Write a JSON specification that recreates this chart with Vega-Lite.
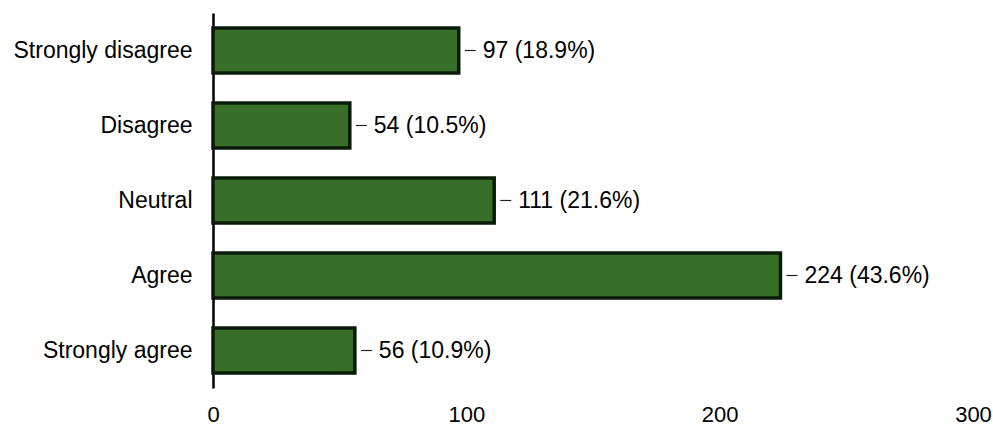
{
  "$schema": "https://vega.github.io/schema/vega-lite/v6.json",
  "autosize": {"type": "none"},
  "width": 760,
  "height": 375,
  "padding": {"left": 213, "top": 13, "right": 20, "bottom": 39},
  "background": "#ffffff",
  "config": {
    "view": {"stroke": null},
    "font": "Liberation Sans",
    "text": {"font": "Liberation Sans"}
  },
  "data": {
    "values": [
      {"response": "Strongly disagree", "count": 97, "pct": "18.9%"},
      {"response": "Disagree", "count": 54, "pct": "10.5%"},
      {"response": "Neutral", "count": 111, "pct": "21.6%"},
      {"response": "Agree", "count": 224, "pct": "43.6%"},
      {"response": "Strongly agree", "count": 56, "pct": "10.9%"}
    ]
  },
  "transform": [
    {"calculate": "datum.count + ' (' + datum.pct + ')'", "as": "label"}
  ],
  "encoding": {
    "y": {
      "field": "response",
      "type": "nominal",
      "sort": ["Strongly disagree", "Disagree", "Neutral", "Agree", "Strongly agree"],
      "scale": {"paddingInner": 0.4, "paddingOuter": 0.2},
      "axis": {
        "title": null,
        "ticks": false,
        "labelFontSize": 23,
        "labelColor": "#000000",
        "labelPadding": 21,
        "domainColor": "#000000",
        "domainWidth": 2.5,
        "labelFont": "Liberation Sans"
      }
    },
    "x": {
      "field": "count",
      "type": "quantitative",
      "scale": {"domain": [0, 300], "nice": false},
      "axis": {
        "title": null,
        "values": [0, 100, 200, 300],
        "ticks": false,
        "domain": false,
        "grid": false,
        "labelFontSize": 22,
        "labelColor": "#000000",
        "labelPadding": 16,
        "labelFont": "Liberation Sans",
        "labelFlush": false
      }
    }
  },
  "layer": [
    {
      "mark": {"type": "bar", "fill": "#376f29", "stroke": "#0a1c08", "strokeWidth": 3.5}
    },
    {
      "mark": {"type": "rule", "xOffset": 6, "x2Offset": 17, "stroke": "#222222", "strokeWidth": 1.2},
      "encoding": {
        "x2": {"field": "count"}
      }
    },
    {
      "mark": {"type": "text", "align": "left", "baseline": "middle", "dx": 24, "fontSize": 23, "color": "#000000"},
      "encoding": {"text": {"field": "label"}}
    }
  ]
}
